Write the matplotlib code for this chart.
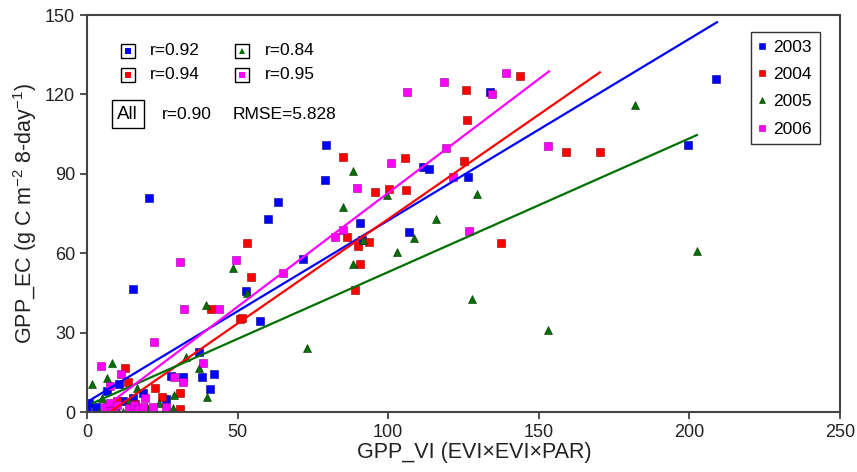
import matplotlib.pyplot as plt

plt.rcParams['font.family'] = ['Liberation Sans', 'DejaVu Sans']
plt.rcParams['mathtext.default'] = 'regular'

# 数据
x2003 = [208.8, 199.5, 79.3, 79.0, 20.6, 63.4, 60.0, 71.7, 57.4, 15.3, 52.8, 90.6, 107.0, 111.6, 113.5,
         126.5, 133.8, 37.2, 38.2, 42.2, 40.8, 31.9, 27.9, 26.2, 18.6, 10.6, 0.7, 0.0, 15.3, 6.6, 91.3,
         3.0, 12.0]
y2003 = [125.8, 100.9, 100.9, 87.6, 80.8, 79.3, 72.9, 57.8, 34.4, 46.5, 45.7, 71.4, 68.0, 92.6, 91.8,
         88.8, 120.9, 22.7, 13.2, 14.4, 8.7, 13.2, 13.6, 4.9, 7.2, 10.6, 3.4, 0.8, 5.3, 7.9, 65.0,
         2.0, 4.0]

x2004 = [143.8, 125.8, 126.2, 125.2, 159.0, 170.3, 137.5, 85.0, 105.6, 95.6, 100.3, 105.9, 86.3, 90.0,
         93.6, 90.6, 89.0, 53.0, 54.4, 41.2, 50.8, 51.5, 12.6, 22.6, 24.9, 30.9, 30.9, 13.6, 7.0,
         10.0, 16.0, 9.0]
y2004 = [126.9, 121.6, 110.3, 94.8, 98.2, 98.2, 63.8, 96.3, 96.0, 83.1, 84.2, 83.9, 66.1, 62.7,
         64.2, 55.9, 46.1, 63.8, 51.0, 38.9, 35.1, 35.5, 16.6, 9.0, 5.7, 7.2, 1.1, 11.3, 1.9,
         4.0, 3.0, 0.5]

x2005 = [182.0, 129.5, 115.9, 202.5, 127.8, 153.0, 88.3, 85.0, 99.6, 108.6, 103.0, 91.6, 88.3,
         73.0, 48.5, 53.0, 39.5, 37.2, 39.8, 32.9, 8.3, 6.6, 1.7, 5.0, 28.9, 23.9, 28.6, 16.6,
         12.0, 4.0, 18.3, 14.0, 10.0, 20.0]
y2005 = [116.0, 82.4, 72.9, 60.8, 42.7, 31.0, 91.0, 77.4, 82.0, 65.7, 60.4, 65.0, 55.9,
         24.2, 54.4, 45.0, 40.4, 16.6, 5.7, 20.8, 18.5, 12.8, 10.6, 5.3, 6.4, 3.4, 1.5, 9.1,
         0.0, 0.0, 0.0, 4.0, 1.0, 2.0]

x2006 = [139.0, 118.5, 134.5, 119.2, 121.5, 153.0, 126.8, 106.2, 100.9, 89.6, 85.0, 82.3, 65.0,
         30.9, 49.5, 32.2, 43.8, 22.2, 38.5, 31.9, 28.9, 4.6, 11.3, 7.6, 21.9, 26.2, 19.3,
         6.0, 7.5, 9.0, 10.0, 14.0, 15.5, 17.0, 18.6, 8.0]
y2006 = [128.0, 124.7, 120.0, 99.7, 88.8, 100.5, 68.4, 120.9, 94.0, 84.6, 68.8, 66.1, 52.5,
         56.7, 57.4, 38.9, 38.9, 26.4, 18.5, 11.3, 13.2, 17.4, 14.4, 9.8, 1.9, 1.9, 5.3,
         2.0, 3.5, 1.0, 2.5, 1.5, 2.5, 1.0, 2.0, 0.5]

years = ['2003', '2004', '2005', '2006']
r_vals = ['r=0.92', 'r=0.94', 'r=0.84', 'r=0.95']
# 回归线: 斜率, 截距, x起点, x终点
fit_slope = [0.686, 0.789, 0.505, 0.86]
fit_icpt = [3.8, -6.0, 2.4, -3.2]
fit_x0 = [1.0, 7.6, 2.0, 5.4]
fit_x1 = [209.2, 170.3, 202.5, 153.4]

colors = ['#0000ff', '#ff0000', '#007000', '#ff00ff']
edges = ['#000080', '#900000', '#003000', '#900090']
markers = ['s', 's', '^', 's']
xs = [x2003, x2004, x2005, x2006]
ys = [y2003, y2004, y2005, y2006]

fig = plt.figure(figsize=(8.57, 4.72), dpi=100)
ax = fig.add_axes([0.1015, 0.127, 0.8785, 0.841])

handles = []
for i in range(4):
    h, = ax.plot(xs[i], ys[i], linestyle='none', marker=markers[i], color=colors[i],
                 markeredgecolor=edges[i], markeredgewidth=0.4, markersize=6, label=years[i])
    handles.append(h)

for i in range(4):
    lx = [fit_x0[i], fit_x1[i]]
    ly = [fit_slope[i] * v + fit_icpt[i] for v in lx]
    ax.plot(lx, ly, color=colors[i], linewidth=1.6)

ax.set_xlim(0, 250)
ax.set_ylim(0, 150)
ax.set_xticks([0, 50, 100, 150, 200, 250])
ax.set_yticks([0, 30, 60, 90, 120, 150])
ax.tick_params(direction='out', length=5, width=1.2, labelsize=13, colors='#333333',
               labelcolor='#222222')
for s in ax.spines.values():
    s.set_color('#444444')
    s.set_linewidth(1.5)

ax.set_xlabel('GPP_VI (EVI×EVI×PAR)', fontsize=15.5, color='#222222')
ax.xaxis.set_label_coords(0.514, -0.075)
ax.set_ylabel('GPP_EC (g C m$^{-2}$ 8-day$^{-1}$)', fontsize=15.5, color='#222222', labelpad=4)

# 左上角的 r 值
key_x = [13.5, 51.5, 13.5, 51.5]
key_y = [136.5, 136.5, 127.5, 127.5]
order = [0, 2, 1, 3]
for k, i in enumerate(order):
    ax.plot(key_x[k], key_y[k], marker='s', markersize=10, markerfacecolor='white',
            markeredgecolor='black', markeredgewidth=1.0, linestyle='none')
    ax.plot(key_x[k], key_y[k], marker=markers[i], markersize=5, color=colors[i],
            markeredgewidth=0, linestyle='none')
    ax.text(key_x[k] + 7.5, key_y[k], r_vals[i], fontsize=12.5, va='center', ha='left')

ax.text(13.5, 112.5, 'All', fontsize=13.5, va='center', ha='center',
        bbox=dict(boxstyle='square,pad=0.3', facecolor='white', edgecolor='black', linewidth=1.0))
ax.text(25, 112.5, 'r=0.90', fontsize=12.5, va='center', ha='left')
ax.text(48.5, 112.5, 'RMSE=5.828', fontsize=12.5, va='center', ha='left')

leg = ax.legend(handles=handles, loc='upper right', bbox_to_anchor=(0.973, 0.958),
                fontsize=12.5, frameon=True, fancybox=False, handlelength=0.4,
                handletextpad=0.45, borderpad=0.45, labelspacing=0.7, markerscale=0.75,
                borderaxespad=0)
leg.get_frame().set_edgecolor('black')
leg.get_frame().set_linewidth(1.0)

plt.savefig('out.png', dpi=100)
